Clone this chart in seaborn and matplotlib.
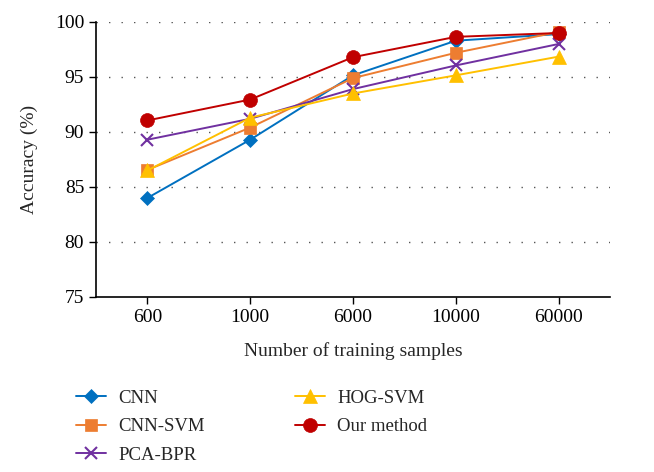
import pandas as pd
import matplotlib
matplotlib.use("Agg")
import matplotlib.pyplot as plt
import seaborn as sns

samples = ["600", "1000", "6000", "10000", "60000"]
cnn = [84.0, 89.3, 95.15, 98.3, 98.9]
cnn_svm = [86.55, 90.4, 94.9, 97.2, 99.1]
pca_bpr = [89.3, 91.2, 93.9, 96.05, 98.0]
hog_svm = [86.5, 91.3, 93.5, 95.15, 96.85]
our_method = [91.05, 92.95, 96.8, 98.65, 99.0]

series = [
    ("CNN", cnn, "#0070C0", "D", 7.5),
    ("CNN-SVM", cnn_svm, "#ED7D31", "s", 8.5),
    ("PCA-BPR", pca_bpr, "#7030A0", "x", 9),
    ("HOG-SVM", hog_svm, "#FFC000", "^", 9.5),
    ("Our method", our_method, "#C00000", "o", 10),
]

sns.set_style("white")
plt.rcParams["font.family"] = ["Liberation Serif", "DejaVu Serif"]

fig = plt.figure(figsize=(6.54, 4.72), dpi=100)
ax = fig.add_axes([0.1468, 0.3708, 0.7859, 0.5826])

for name, vals, col, mk, ms in series:
    df = pd.DataFrame({"samples": samples, "acc": vals})
    sns.lineplot(data=df, x="samples", y="acc", ax=ax, color=col, marker=mk,
                 markersize=ms, markeredgecolor=col, markeredgewidth=1.5 if mk == "x" else 0.5,
                 linewidth=1.4, label=name, sort=False)

ax.set_xlim(-0.5, 4.5)
ax.set_ylim(75, 100)
ax.set_yticks([75, 80, 85, 90, 95, 100])
for v in [80, 85, 90, 95, 100]:
    ax.axhline(v, color="#555555", linewidth=1.0, linestyle=(0, (1, 8)), zorder=0)

sns.despine(ax=ax)
ax.spines["left"].set_color("black")
ax.spines["bottom"].set_color("black")
ax.spines["left"].set_linewidth(1.2)
ax.spines["bottom"].set_linewidth(1.2)
ax.tick_params(axis="both", direction="out", length=5, width=1, colors="black",
               labelsize=14, left=True, bottom=True)
ax.set_xlabel("Number of training samples", fontsize=14, labelpad=12)
ax.set_ylabel("Accuracy (%)", fontsize=14, labelpad=12)

ax.legend(loc="upper left", bbox_to_anchor=(0.105, 0.19), bbox_transform=fig.transFigure,
          ncol=2, frameon=False, fontsize=13.5, handlelength=1.6, handletextpad=0.65,
          columnspacing=4.8, labelspacing=0.6, borderaxespad=0)

fig.savefig("out.png", dpi=100)
